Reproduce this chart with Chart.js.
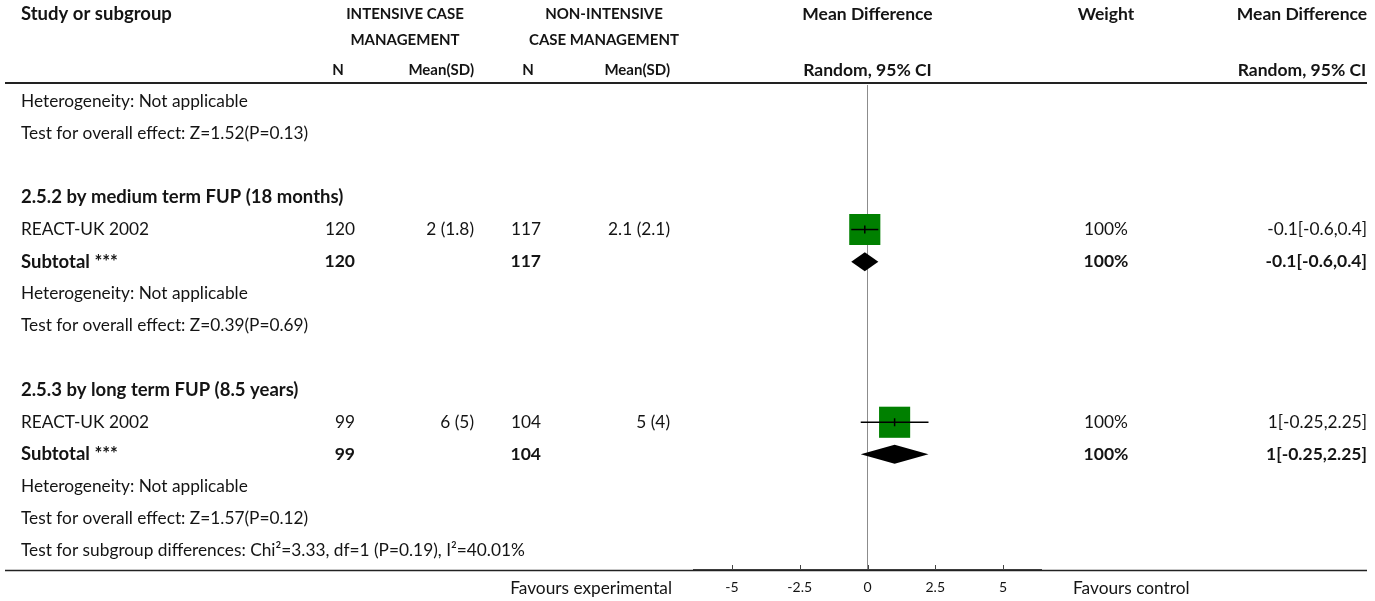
<!DOCTYPE html>
<html>
<head>
<meta charset="utf-8">
<script src="https://cdn.jsdelivr.net/npm/chart.js@4.4.1/dist/chart.umd.min.js"></script>
<style>
  html, body { margin: 0; padding: 0; background: #fff; }
  #wrap { width: 1375px; height: 601px; }
</style>
</head>
<body>
<div id="wrap"><canvas id="forest" width="1375" height="601"></canvas></div>
<script>
// Row labels of the forest plot, top to bottom (empty string = spacer row)
const rowLabels = [
  'Heterogeneity: Not applicable',
  'Test for overall effect: Z=1.52(P=0.13)',
  '',
  '2.5.2 by medium term FUP (18 months)',
  'REACT-UK 2002',
  'Subtotal ***',
  'Heterogeneity: Not applicable',
  'Test for overall effect: Z=0.39(P=0.69)',
  '',
  '2.5.3 by long term FUP (8.5 years)',
  'REACT-UK 2002',
  'Subtotal ***',
  'Heterogeneity: Not applicable',
  'Test for overall effect: Z=1.57(P=0.12)',
  'Test for subgroup differences: Chi\u00b2=3.33, df=1 (P=0.19), I\u00b2=40.01%'
];
const headingRows = [3, 9];

// Individual studies
const studyRows   = [4, 10];
const studyExpN   = [120, 99];
const studyExpMSD = ['2 (1.8)', '6 (5)'];
const studyCtlN   = [117, 104];
const studyCtlMSD = ['2.1 (2.1)', '5 (4)'];
const studyMD     = [-0.1, 1];
const studyLow    = [-0.6, -0.25];
const studyHigh   = [0.4, 2.25];
const studyWeight = [100, 100];

// Subgroup totals
const subRows   = [5, 11];
const subExpN   = [120, 99];
const subCtlN   = [117, 104];
const subMD     = [-0.1, 1];
const subLow    = [-0.6, -0.25];
const subHigh   = [0.4, 2.25];
const subWeight = [100, 100];

// Axis
const xTicks = [-5, -2.5, 0, 2.5, 5];
const xMin = -6.4, xMax = 6.4;
const leftCaption = 'Favours experimental';
const rightCaption = 'Favours control';

const FONT = 'Lato, "Open Sans", sans-serif';
const TEXT = '#141414';
const SIZE = 17.3;    // body text
const BOLD = 18.5;    // bold row labels
const HEAD = 17.5;    // mixed-case column headers
const CAPS = 15;      // all-caps header lines

const ciText = (m, l, h) => `${m}[${l},${h}]`;

// Column anchors (pixels)
const COL = { label: 21, expN: 355, expMSD: 474, ctlN: 541, ctlMSD: 670, weight: 1106, md: 1367, mdHead: 1302 };

const tablePlugin = {
  id: 'forestTable',
  afterDatasetsDraw(chart) {
    const { ctx, scales: { x, y } } = chart;
    // summary diamonds
    ctx.save();
    ctx.fillStyle = '#000';
    subRows.forEach((r, i) => {
      const cy = y.getPixelForValue(r);
      const half = 9.5;
      ctx.beginPath();
      ctx.moveTo(x.getPixelForValue(subLow[i]), cy);
      ctx.lineTo(x.getPixelForValue(subMD[i]), cy - half);
      ctx.lineTo(x.getPixelForValue(subHigh[i]), cy);
      ctx.lineTo(x.getPixelForValue(subMD[i]), cy + half);
      ctx.closePath();
      ctx.fill();
    });
    ctx.restore();
  },
  afterDraw(chart) {
    const { ctx, chartArea, scales: { x, y } } = chart;
    ctx.save();
    ctx.textBaseline = 'middle';
    ctx.fillStyle = TEXT;
    const put = (t, px, py, align, bold, size) => {
      ctx.font = `${bold ? 'bold ' : ''}${size}px ${FONT}`;
      ctx.textAlign = align;
      ctx.fillText(t, px, py);
    };

    // column headers
    put('Study or subgroup', COL.label, 14, 'left', true, BOLD);
    put('INTENSIVE CASE', 405, 14, 'center', true, CAPS);
    put('MANAGEMENT', 405, 40, 'center', true, CAPS);
    put('NON-INTENSIVE', 604, 14, 'center', true, CAPS);
    put('CASE MANAGEMENT', 604, 40, 'center', true, CAPS);
    put('Mean Difference', x.getPixelForValue(0), 14, 'center', true, HEAD);
    put('Weight', COL.weight, 14, 'center', true, HEAD);
    put('Mean Difference', COL.mdHead, 14, 'center', true, HEAD);
    put('N', 338, 70, 'center', true, CAPS);
    put('Mean(SD)', COL.expMSD, 70, 'right', true, CAPS);
    put('N', 528, 70, 'center', true, CAPS);
    put('Mean(SD)', COL.ctlMSD, 70, 'right', true, CAPS);
    put('Random, 95% CI', x.getPixelForValue(0), 70, 'center', true, HEAD);
    put('Random, 95% CI', COL.mdHead, 70, 'center', true, HEAD);

    // rule under the header
    ctx.strokeStyle = '#222';
    ctx.lineWidth = 2;
    ctx.beginPath();
    ctx.moveTo(5, 83); ctx.lineTo(1367, 83);
    ctx.stroke();

    // row labels
    rowLabels.forEach((t, r) => {
      if (!t) return;
      const bold = headingRows.includes(r) || subRows.includes(r);
      put(t, COL.label, y.getPixelForValue(r), 'left', bold, bold ? BOLD : SIZE);
    });

    // study rows
    studyRows.forEach((r, i) => {
      const py = y.getPixelForValue(r);
      put(String(studyExpN[i]), COL.expN, py, 'right', false, SIZE);
      put(studyExpMSD[i], COL.expMSD, py, 'right', false, SIZE);
      put(String(studyCtlN[i]), COL.ctlN, py, 'right', false, SIZE);
      put(studyCtlMSD[i], COL.ctlMSD, py, 'right', false, SIZE);
      put(studyWeight[i] + '%', COL.weight, py, 'center', false, SIZE);
      put(ciText(studyMD[i], studyLow[i], studyHigh[i]), COL.md, py, 'right', false, SIZE);
    });

    // subtotal rows
    subRows.forEach((r, i) => {
      const py = y.getPixelForValue(r);
      put(String(subExpN[i]), COL.expN, py, 'right', true, HEAD);
      put(String(subCtlN[i]), COL.ctlN, py, 'right', true, HEAD);
      put(subWeight[i] + '%', COL.weight, py, 'center', true, HEAD);
      put(ciText(subMD[i], subLow[i], subHigh[i]), COL.md, py, 'right', true, HEAD);
    });

    // bottom rule and upward tick marks on the effect axis
    const by = chartArea.bottom;
    ctx.strokeStyle = '#222';
    ctx.lineWidth = 1.5;
    ctx.beginPath();
    ctx.moveTo(5, by + 0.5); ctx.lineTo(1367, by + 0.5);
    ctx.stroke();
    ctx.lineWidth = 1;
    ctx.strokeStyle = '#444';
    xTicks.forEach(v => {
      const px = Math.round(x.getPixelForValue(v)) + 0.5;
      ctx.beginPath();
      ctx.moveTo(px, by); ctx.lineTo(px, by - 5);
      ctx.stroke();
    });

    // axis captions
    const cy = by + 18;
    put(leftCaption, 672, cy, 'right', false, SIZE);
    put(rightCaption, 1073, cy, 'left', false, SIZE);
    ctx.restore();
  }
};

const whiskers = studyRows.map((r, i) => ({
  type: 'scatter',
  data: [{ x: studyLow[i], y: r }, { x: studyHigh[i], y: r }],
  showLine: true,
  borderColor: '#000',
  borderWidth: 1.5,
  pointRadius: 0
}));

new Chart(document.getElementById('forest'), {
  type: 'scatter',
  data: {
    datasets: [
      ...whiskers,
      {
        data: studyRows.map((r, i) => ({ x: studyMD[i], y: r })),
        pointStyle: 'line',
        rotation: 90,
        pointRadius: 4,
        borderColor: '#000',
        borderWidth: 1.5
      },
      {
        data: studyRows.map((r, i) => ({ x: studyMD[i], y: r })),
        pointStyle: 'rect',
        pointRadius: studyWeight.map(w => 22 * Math.sqrt(w / 100)),
        backgroundColor: '#008000',
        borderWidth: 0
      }
    ]
  },
  options: {
    responsive: false,
    animation: false,
    events: [],
    layout: { padding: { left: 694, right: 334, top: 85, bottom: 0 } },
    plugins: { legend: { display: false }, tooltip: { enabled: false } },
    scales: {
      x: {
        type: 'linear',
        min: xMin,
        max: xMax,
        afterBuildTicks: s => { s.ticks = xTicks.map(v => ({ value: v })); },
        afterFit: s => { s.height = 31; },
        grid: {
          drawTicks: false,
          color: c => (c.tick && c.tick.value === 0 ? '#8c8c8c' : 'rgba(0,0,0,0)'),
          lineWidth: 1
        },
        border: { display: true, color: '#444', width: 1.5 },
        ticks: {
          font: { family: FONT, size: 14, lineHeight: 1 },
          color: TEXT,
          padding: 10,
          maxRotation: 0,
          callback: v => String(v)
        }
      },
      y: {
        type: 'linear',
        min: -0.5,
        max: 14.6,
        reverse: true,
        display: false
      }
    }
  },
  plugins: [tablePlugin]
});
</script>
</body>
</html>
